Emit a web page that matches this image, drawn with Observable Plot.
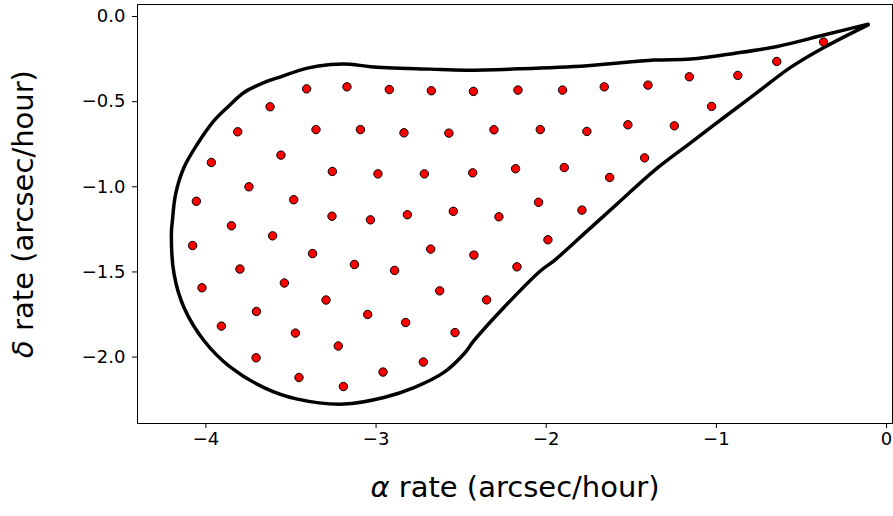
<!DOCTYPE html>
<html>
<head>
<meta charset="utf-8">
<script src="https://cdn.jsdelivr.net/npm/d3@7"></script>
<script src="https://cdn.jsdelivr.net/npm/@observablehq/plot@0.6"></script>
<style>
  html, body { margin: 0; padding: 0; background: white; }
  svg { display: block; }
</style>
</head>
<body>
<div id="chart"></div>
<script>
// Sample points (alpha rate, delta rate), arcsec/hour
const alphaRate = [
  -0.370, -0.645, -0.874, -1.159, -1.402, -1.659, -1.904, -2.166, -2.428, -2.675,
  -2.922, -3.171, -3.408, -3.623, -1.028, -3.813, -3.353, -3.092, -2.836, -2.572,
  -2.307, -2.035, -1.761, -1.520, -1.247, -1.422, -3.968, -3.559, -3.257, -2.989,
  -2.716, -2.432, -2.180, -1.894, -1.627, -4.056, -3.747, -3.484, -3.259, -3.033,
  -2.816, -2.546, -2.278, -2.045, -1.790, -3.850, -3.608, -4.078, -3.373, -3.127,
  -2.891, -2.679, -2.425, -2.172, -1.990, -3.800, -4.023, -3.539, -3.294, -3.049,
  -2.826, -2.626, -2.350, -3.703, -3.909, -3.474, -3.222, -2.536, -3.705, -2.722,
  -2.959, -3.453, -3.192
];
const deltaRate = [
  -0.150, -0.264, -0.346, -0.354, -0.403, -0.413, -0.432, -0.432, -0.440, -0.436,
  -0.429, -0.413, -0.425, -0.530, -0.528, -0.677, -0.664, -0.664, -0.683, -0.685,
  -0.665, -0.664, -0.675, -0.636, -0.642, -0.830, -0.857, -0.814, -0.910, -0.924,
  -0.924, -0.918, -0.894, -0.887, -0.945, -1.085, -1.000, -1.076, -1.173, -1.194,
  -1.164, -1.144, -1.176, -1.091, -1.137, -1.229, -1.288, -1.345, -1.392, -1.456,
  -1.491, -1.366, -1.401, -1.470, -1.311, -1.483, -1.593, -1.565, -1.665, -1.750,
  -1.797, -1.611, -1.664, -1.732, -1.818, -1.859, -1.935, -1.856, -2.004, -2.029,
  -2.088, -2.120, -2.173
];

// Boundary outline (closed teardrop)
const outlineAlpha = [
  -0.108, -0.368, -0.642, -0.897, -1.152, -1.367, -1.759, -2.150, -2.474, -2.679,
  -3.032, -3.149, -3.267, -3.404, -3.561, -3.659, -3.776, -3.874, -3.952, -4.050,
  -4.129, -4.178, -4.197, -4.203, -4.187, -4.129, -4.011, -3.854, -3.659, -3.462,
  -3.189, -2.954, -2.777, -2.601, -2.484, -2.425, -2.249, -2.033, -1.955, -1.759,
  -1.563, -1.367, -1.152, -0.956, -0.760, -0.564, -0.368, -0.108
];
const outlineDelta = [
  -0.045, -0.109, -0.176, -0.217, -0.250, -0.256, -0.289, -0.307, -0.315, -0.309,
  -0.295, -0.280, -0.282, -0.303, -0.354, -0.388, -0.446, -0.534, -0.612, -0.749,
  -0.887, -1.043, -1.200, -1.278, -1.513, -1.709, -1.904, -2.061, -2.179, -2.247,
  -2.276, -2.237, -2.179, -2.090, -1.982, -1.904, -1.709, -1.493, -1.435, -1.259,
  -1.082, -0.906, -0.742, -0.593, -0.446, -0.299, -0.182, -0.049
];

const xTicks = [-4, -3, -2, -1, 0];
const yTicks = [0, -0.5, -1.0, -1.5, -2.0];
const xLabel = "α rate (arcsec/hour)";
const yLabel = "δ rate (arcsec/hour)";

const points = alphaRate.map((a, i) => ({a, d: deltaRate[i]}));
const outline = outlineAlpha.map((a, i) => ({a, d: outlineDelta[i]}));

const minus = s => s.replace("-", "\u2212");
const fmtX = d => minus(d3.format("d")(d));
const fmtY = d => minus(d3.format(".1f")(d));

const chart = Plot.plot({
  width: 893,
  height: 516,
  marginLeft: 137,
  marginRight: 1,
  marginTop: 4,
  marginBottom: 93,
  x: {domain: [-4.402, 0.035]},
  y: {domain: [-2.39, 0.0705]},
  style: {fontFamily: "'DejaVu Sans', sans-serif", fontSize: "18px", color: "black", background: "white"},
  marks: [
    Plot.frame({stroke: "black", strokeWidth: 1}),
    Plot.axisX({ticks: xTicks, tickFormat: fmtX, tickSize: 5, tickPadding: 4, label: null, fontSize: 18}),
    Plot.axisY({ticks: yTicks, tickFormat: fmtY, tickSize: 5, tickPadding: 7, label: null, fontSize: 18}),
    Plot.line(outline, {x: "a", y: "d", stroke: "black", strokeWidth: 3.5, curve: "catmull-rom", strokeLinejoin: "round"}),
    Plot.dot(points, {x: "a", y: "d", r: 4.2, fill: "red", stroke: "black", strokeWidth: 1}),
    Plot.text([xLabel], {text: d => d, frameAnchor: "bottom", dy: 73, fontSize: 29, textAnchor: "middle"}),
    Plot.text([yLabel], {text: d => d, frameAnchor: "left", dx: -114, rotate: -90, fontSize: 29, textAnchor: "middle"})
  ]
});

document.getElementById("chart").appendChild(chart);

// tick labels: enforce size and colour; italic Greek letters in axis labels
d3.select(chart).selectAll("text").each(function() {
  const t = this.textContent;
  const sel = d3.select(this);
  if (t === xLabel || t === yLabel) {
    sel.text(null);
    sel.append("tspan").attr("font-style", "italic").text(t.charAt(0));
    sel.append("tspan").text(t.slice(1));
  } else {
    sel.attr("font-size", 18).style("font-size", "18px").attr("fill", "black");
  }
});
</script>
</body>
</html>
